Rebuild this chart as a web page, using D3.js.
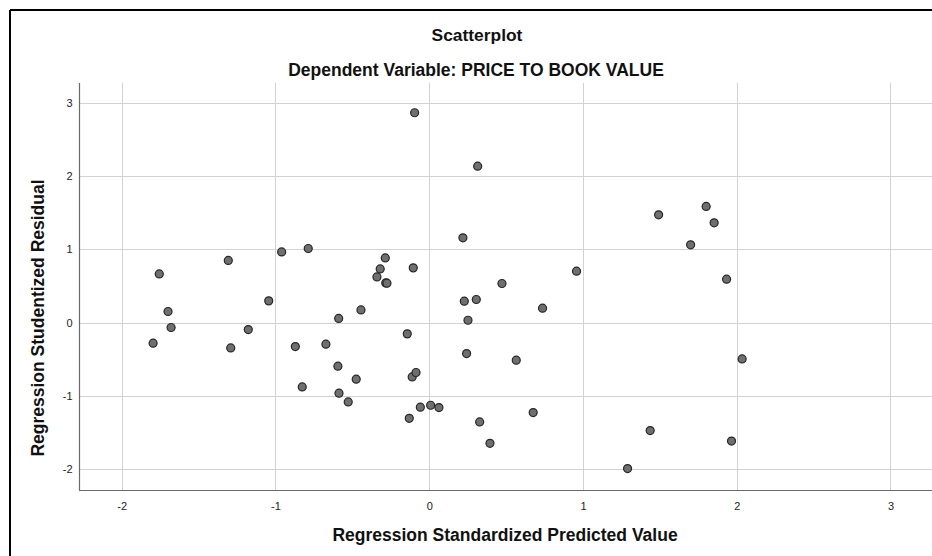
<!DOCTYPE html>
<html lang="en">
<head>
  <meta charset="utf-8">
  <title>Scatterplot</title>
  <style>
    body { margin: 0; background: #fff; }
    svg text { font-family: "Liberation Sans", Arial, sans-serif; fill: #111; }
    .tick-label { font-size: 11px; fill: #222; }
  </style>
</head>
<body>
<div id="chart"></div>

<script src="https://cdn.jsdelivr.net/npm/d3@7"></script>
<script>
  // predicted (standardized) vs studentized residual
  const predicted = [
    -1.796, -1.756, -1.699, -1.679, -1.307, -1.291, -1.177, -1.044, -0.960, -0.871,
    -0.826, -0.787, -0.672, -0.594, -0.589, -0.587, -0.527, -0.475, -0.444, -0.340,
    -0.319, -0.286, -0.283, -0.275, -0.143, -0.130, -0.111, -0.104, -0.095, -0.086,
    -0.058, 0.009, 0.063, 0.219, 0.228, 0.243, 0.252, 0.306, 0.315, 0.328,
    0.395, 0.473, 0.566, 0.676, 0.737, 0.958, 1.290, 1.437, 1.492, 1.700,
    1.801, 1.853, 1.934, 1.966, 2.035
  ];
  const residual = [
    -0.278, 0.667, 0.154, -0.064, 0.850, -0.342, -0.092, 0.299, 0.967, -0.324,
    -0.874, 1.013, -0.292, -0.592, 0.059, -0.960, -1.079, -0.769, 0.176, 0.626,
    0.735, 0.885, 0.544, 0.540, -0.151, -1.302, -0.738, 0.749, 2.864, -0.678,
    -1.151, -1.124, -1.156, 1.159, 0.295, -0.419, 0.035, 0.318, 2.136, -1.352,
    -1.643, 0.536, -0.510, -1.224, 0.199, 0.704, -1.988, -1.470, 1.472, 1.063,
    1.587, 1.363, 0.595, -1.613, -0.492
  ];
  const xTicks = [-2, -1, 0, 1, 2, 3];
  const yTicks = [-2, -1, 0, 1, 2, 3];

  const width = 932, height = 556;
  const plotLeft = 79, plotRight = 932, plotTop = 83, plotBottom = 490;

  const svg = d3.select("#chart").append("svg")
    .attr("width", width)
    .attr("height", height);

  const x = d3.scaleLinear().domain([-2.278, 3.27]).range([plotLeft, plotRight]);
  const y = d3.scaleLinear().domain([-2.28, 3.27]).range([plotBottom, plotTop]);

  // outer frame (top and left edge only visible)
  svg.append("line").attr("x1", 10).attr("x2", width).attr("y1", 10).attr("y2", 10)
    .attr("stroke", "#000").attr("stroke-width", 2);
  svg.append("line").attr("x1", 10).attr("x2", 10).attr("y1", 10).attr("y2", height)
    .attr("stroke", "#000").attr("stroke-width", 2);

  // titles
  svg.append("text")
    .attr("x", 477).attr("y", 41)
    .attr("text-anchor", "middle")
    .style("font-size", "17.4px").style("font-weight", "bold")
    .text("Scatterplot");
  svg.append("text")
    .attr("x", 476).attr("y", 76)
    .attr("text-anchor", "middle")
    .style("font-size", "17.5px").style("font-weight", "bold")
    .text("Dependent Variable: PRICE TO BOOK VALUE");

  // grid
  svg.append("g").selectAll("line")
    .data(xTicks)
    .enter().append("line")
      .attr("x1", d => Math.round(x(d)) + 0.5).attr("x2", d => Math.round(x(d)) + 0.5)
      .attr("y1", plotTop).attr("y2", plotBottom)
      .attr("stroke", "#d2d2d2");
  svg.append("g").selectAll("line")
    .data(yTicks)
    .enter().append("line")
      .attr("x1", plotLeft).attr("x2", plotRight)
      .attr("y1", d => Math.round(y(d)) + 0.5).attr("y2", d => Math.round(y(d)) + 0.5)
      .attr("stroke", "#d2d2d2");

  // axes (plain hyphen for negatives, like the original)
  const fmt = d => String(d);
  const xAxis = d3.axisBottom(x).tickValues(xTicks).tickSize(0).tickPadding(12).tickFormat(fmt);
  const yAxis = d3.axisLeft(y).tickValues(yTicks).tickSize(0).tickPadding(7).tickFormat(fmt);

  const gx = svg.append("g").attr("transform", "translate(0," + (plotBottom + 0.5) + ")").call(xAxis);
  const gy = svg.append("g").attr("transform", "translate(" + (plotLeft + 0.5) + ",0)").call(yAxis);
  [gx, gy].forEach(g => {
    g.select(".domain").attr("stroke", "#6a6a6a").attr("stroke-width", 1.2);
    g.selectAll(".tick text")
      .attr("class", "tick-label")
      .style("font-family", '"Liberation Sans", Arial, sans-serif');
  });
  gx.select(".domain").attr("d", "M" + plotLeft + ",0H" + plotRight);
  gy.select(".domain").attr("d", "M0," + plotTop + "V" + plotBottom);

  // points
  svg.append("g").selectAll("circle")
    .data(predicted.map((p, i) => [p, residual[i]]))
    .enter().append("circle")
      .attr("cx", d => x(d[0]))
      .attr("cy", d => y(d[1]))
      .attr("r", 4)
      .attr("fill", "#6f6f6f")
      .attr("stroke", "#262626")
      .attr("stroke-width", 1.2);

  // axis titles
  svg.append("text")
    .attr("x", 505).attr("y", 541)
    .attr("text-anchor", "middle")
    .style("font-size", "17.5px").style("font-weight", "bold")
    .text("Regression Standardized Predicted Value");
  svg.append("text")
    .attr("transform", "translate(44,318) rotate(-90)")
    .attr("text-anchor", "middle")
    .style("font-size", "17.5px").style("font-weight", "bold")
    .text("Regression Studentized Residual");
</script>
</body>
</html>
